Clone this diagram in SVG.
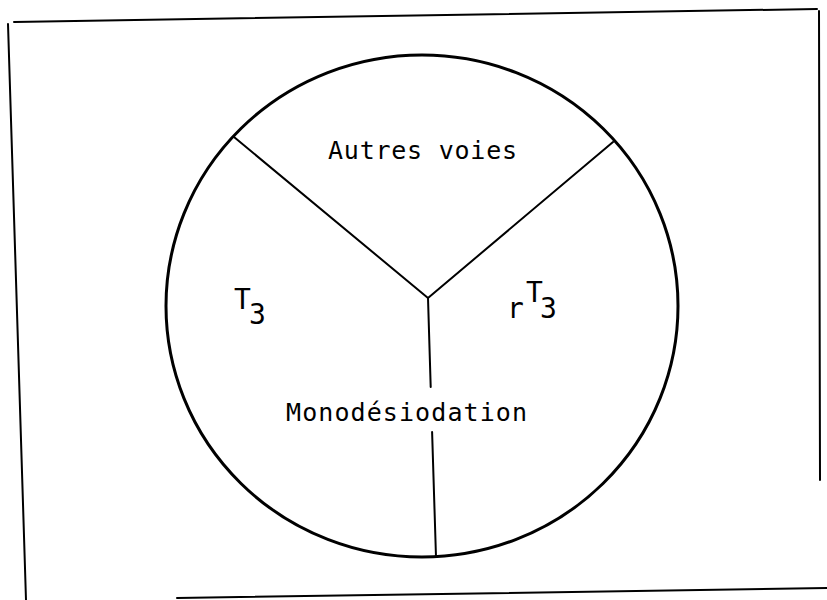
<svg xmlns="http://www.w3.org/2000/svg" width="827" height="600" viewBox="0 0 827 600">
  <style>
    .frame { fill: none; stroke: #000; stroke-width: 2; stroke-linecap: round; }
    .rim { fill: none; stroke: #000; stroke-width: 3; }
    .spoke { fill: none; stroke: #000; stroke-width: 2; stroke-linecap: round; }
    .lbl { font-family: "DejaVu Sans Mono", "Liberation Mono", monospace; font-size: 25px; fill: #000; }
    .sym { font-family: "DejaVu Sans Mono", "Liberation Mono", monospace; font-size: 28px; fill: #000; }
  </style>
  <rect width="827" height="600" fill="#fff"/>
  <g id="frame">
    <line class="frame" x1="14" y1="22" x2="817" y2="9"/>
    <line class="frame" x1="819" y1="11" x2="820" y2="480"/>
    <line class="frame" x1="8" y1="24" x2="26" y2="600"/>
    <line class="frame" x1="177" y1="598" x2="827" y2="588"/>
  </g>
  <g id="pie">
    <ellipse class="rim" cx="422" cy="306" rx="256" ry="251"/>
  </g>
  <g id="connectors">
    <line class="spoke" x1="234" y1="137" x2="428" y2="298"/>
    <line class="spoke" x1="613" y1="142" x2="428" y2="298"/>
    <line class="spoke" x1="428" y1="298" x2="430.7" y2="387"/>
    <line class="spoke" x1="432.1" y1="432" x2="436" y2="557"/>
  </g>
  <g id="autres-voies">
    <text class="lbl" x="328" y="159" textLength="189" lengthAdjust="spacing">Autres voies</text>
  </g>
  <g id="t3">
    <text class="sym"><tspan x="234" y="309">T</tspan><tspan x="249" y="324">3</tspan></text>
  </g>
  <g id="rt3">
    <text class="sym"><tspan x="507" y="318">r</tspan><tspan x="526" y="302">T</tspan><tspan x="540" y="318">3</tspan></text>
  </g>
  <g id="monodesiodation">
    <text class="lbl" x="286" y="421" textLength="241" lengthAdjust="spacing">Monodésiodation</text>
  </g>
</svg>
